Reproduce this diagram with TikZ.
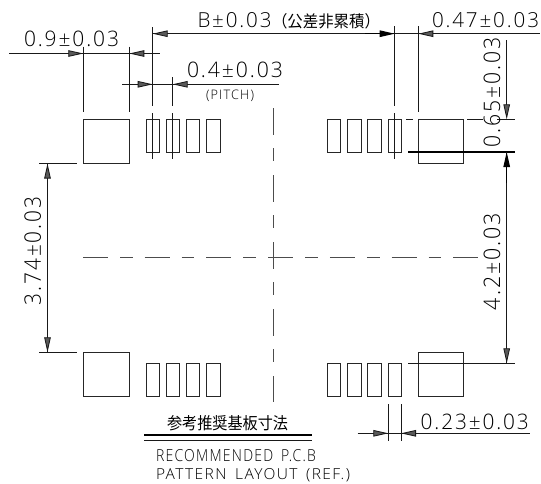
\documentclass[tikz,border=0pt]{standalone}
\usepackage{fontspec}
\setmainfont{Open Sans Light}[LetterSpace=9,WordSpace=1.6]
\newfontfamily\cjk{Noto Sans CJK JP}
\usetikzlibrary{arrows.meta}
\newcommand{\fitT}[3]{\resizebox{#1pt}{#2pt}{#3}}
\tikzset{
  ln/.style={line width=0.85pt,draw=black!90},
  pad/.style={line width=0.85pt,draw=black!85},
  heavy/.style={line width=1.1pt,draw=black},
  tipg/.style={ln,-{Triangle[length=15pt,width=6.5pt,fill=black!65]}},
  tipk/.style={heavy,-{Triangle[length=15pt,width=6.5pt,fill=black]}},
  ctr/.style={line width=0.9pt,draw=black!70},
  lbl/.style={inner sep=0pt,outer sep=0pt,anchor=base west,text=black},
  vlbl/.style={lbl,rotate=90}
}
\begin{document}
\begin{tikzpicture}[x=1pt,y=-1pt]
\useasboundingbox[fill=white] (0,0) rectangle (541,483);
% pads
\foreach \y/\h in {119.3/163.5,352.3/396}{
  \draw[pad] (83.3,\y) rectangle (129.3,\h);
  \draw[pad] (418.3,\y) rectangle (463.5,\h);
}
\foreach \y/\h in {119.3/152.5,363/396}{
  \foreach \a/\b in {146/159,166/179.7,186/199.3,206/220,327.3/340.3,347.3/361,367/381,388.2/401.7}{
    \draw[pad] (\a,\y) rectangle (\b,\h);
  }
}
% centre lines
\draw[ctr,dash pattern=on 25pt off 12pt on 12.7pt off 12pt] (83,257.7) -- (479,257.7);
\draw[ctr,dash pattern=on 27pt off 13pt on 13pt off 14pt] (273.5,108) -- (273.5,402);
% extension lines top
\foreach \x/\a/\b in {83.3/46.7/112,129.3/46.7/112,152.7/27/106,172.7/77/106,394.7/26/106,418.3/26/112}{
  \draw[ln] (\x,\a) -- (\x,\b);
}
\foreach \x in {152.7,172.7,394.7}{ \draw[ln] (\x,113) -- (\x,159); }
% 0.9
\draw[ln] (9,53.5) -- (160,53.5);
\draw[tipg] (60,53.5) -- (83.3,53.5);
\draw[tipg] (150,53.5) -- (129.3,53.5);
% 0.4
\draw[ln] (122,84.3) -- (279,84.3);
\draw[tipg] (130,84.3) -- (152.7,84.3);
\draw[tipg] (195,84.3) -- (172.7,84.3);
% B and 0.47
\draw[ln] (152.7,33.7) -- (540,33.7);
\draw[tipg] (175,33.7) -- (152.7,33.7);
\draw[tipk] (365,33.7) -- (394.7,33.7);
\draw[tipg] (440,33.7) -- (418.3,33.7);
% right side
\draw[ln] (406,119.3) -- (412.7,119.3);
\draw[ln] (467,119.3) -- (483,119.3);
\draw[ln] (497,119.3) -- (515,119.3);
\draw[heavy] (408,152) -- (515,152);
\draw[ln] (408,363.3) -- (515,363.3);
\draw[tipg] (506.7,40) -- (506.7,119.3);
\draw[ln] (506.7,152) -- (506.7,363.3);
\draw[tipk] (506.7,183) -- (506.7,152);
\draw[tipg] (506.7,340) -- (506.7,363.3);
% left side
\draw[ln] (39.3,163.5) -- (76.7,163.5);
\draw[ln] (39.3,352.3) -- (76.7,352.3);
\draw[ln] (47.5,163.5) -- (47.5,352.3);
\draw[tipg] (47.5,190) -- (47.5,163.5);
\draw[tipg] (47.5,330) -- (47.5,352.3);
% 0.23
\draw[ln] (388.3,404) -- (388.3,441);
\draw[ln] (401,404) -- (401,441);
\draw[ln] (357.7,433.3) -- (530,433.3);
\draw[tipg] (365,433.3) -- (388.3,433.3);
\draw[tipg] (425,433.3) -- (401,433.3);
% title rule
\draw[heavy] (144,435) -- (312,435);
\draw[ln] (144,440) -- (312,440);
% labels
\node[lbl] (t09) at (24,46) {\fitT{95}{15.5}{0.9±0.03}};
\node[lbl] (tb) at (197.5,27) {\fitT{74}{15}{B±0.03}};
\node[lbl] (tbz) at (272,27.5) {\fitT{108}{14}{\cjk （公差非累積）}};
\node[lbl] (t04) at (187,77) {\fitT{96}{15.5}{0.4±0.03}};
\node[lbl] (tp) at (206,99) {\fitT{48}{9.5}{(PITCH)}};
\node[lbl] (t047) at (432,27) {\fitT{107}{15}{0.47±0.03}};
\node[vlbl] (t065) at (500,147) {\fitT{110}{16.5}{0.65±0.03}};
\node[vlbl] (t374) at (41,305) {\fitT{108}{16.5}{3.74±0.03}};
\node[vlbl] (t42) at (500,310) {\fitT{97}{16.5}{4.2±0.03}};
\node[lbl] (t023) at (420.7,429) {\fitT{108}{15.5}{0.23±0.03}};
\node[lbl] (tjp) at (167,429) {\fitT{121}{14}{\cjk 参考推奨基板寸法}};
\node[lbl] (tr) at (156,461) {\fitT{160}{12}{RECOMMENDED P.C.B}};
\node[lbl] (tl) at (156,479.5) {\fitT{194}{11}{PATTERN LAYOUT (REF.)}};
\end{tikzpicture}
\end{document}
